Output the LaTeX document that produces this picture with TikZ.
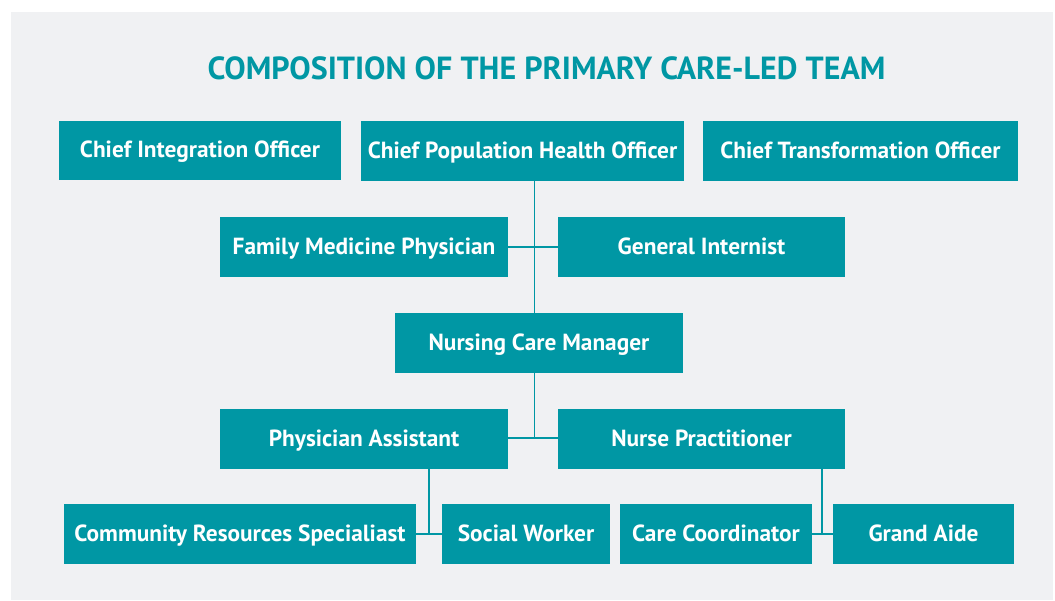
\documentclass[tikz,border=0pt]{standalone}
\usepackage{fontspec}
\setmainfont{PT Sans}
\definecolor{teal1}{RGB}{0,151,164}
\definecolor{bggray}{RGB}{240,241,243}
\tikzset{
  box/.style={fill=teal1, text=white, inner sep=0pt, font=\bfseries\fontsize{17.5pt}{20pt}\selectfont, minimum height=60*0.75pt, text height=13pt, text depth=2.5pt},
  conn/.style={draw=teal1, line width=0.9pt},
  titlestyle/.style={text=teal1, font=\bfseries\fontsize{24pt}{28pt}\selectfont, inner sep=0pt, anchor=base}
}
\begin{document}
\begin{tikzpicture}[x=0.75pt, y=-0.75pt]
\useasboundingbox (0,0) rectangle (1055,600);
\fill[white] (0,0) rectangle (1055,600);
\fill[bggray] (11,12) rectangle (1053,600);
\node[titlestyle] (title) at (546.5,79.5) {COMPOSITION OF THE PRIMARY CARE-LED TEAM};
\node[box, minimum width=282*0.75pt, minimum height=59*0.75pt] (cio) at (200,150.5) {Chief Integration Officer};
\node[box, minimum width=323*0.75pt] (cph) at (522.5,151) {Chief Population Health Officer};
\node[box, minimum width=315*0.75pt] (cto) at (860.5,151) {Chief Transformation Officer};
\node[box, minimum width=288*0.75pt] (fmp) at (364,247) {Family Medicine Physician};
\node[box, minimum width=287*0.75pt] (gi) at (701.5,247) {General Internist};
\node[box, minimum width=288*0.75pt] (ncm) at (539,343) {Nursing Care Manager};
\node[box, minimum width=288*0.75pt] (pa) at (364,439) {Physician Assistant};
\node[box, minimum width=287*0.75pt] (np) at (701.5,439) {Nurse Practitioner};
\node[box, minimum width=352*0.75pt] (crs) at (240,534) {Community Resources Specialiast};
\node[box, minimum width=168*0.75pt] (sw) at (526,534) {Social Worker};
\node[box, minimum width=192*0.75pt] (cc) at (716,534) {Care Coordinator};
\node[box, minimum width=181*0.75pt] (ga) at (923.5,534) {Grand Aide};
\coordinate (t1) at (534.5,247);
\coordinate (t2) at (534.5,438);
\coordinate (t3) at (429,534);
\coordinate (t4) at (822,534);
\draw[conn] (t1 |- cph.south) -- (t1 |- ncm.north);
\draw[conn] (fmp.east) -- (gi.west);
\draw[conn] (t2 |- ncm.south) -- (t2);
\draw[conn] (pa.east |- t2) -- (np.west |- t2);
\draw[conn] (t3 |- pa.south) -- (t3);
\draw[conn] (crs.east) -- (sw.west);
\draw[conn] (t4 |- np.south) -- (t4);
\draw[conn] (cc.east) -- (ga.west);
\end{tikzpicture}
\end{document}
